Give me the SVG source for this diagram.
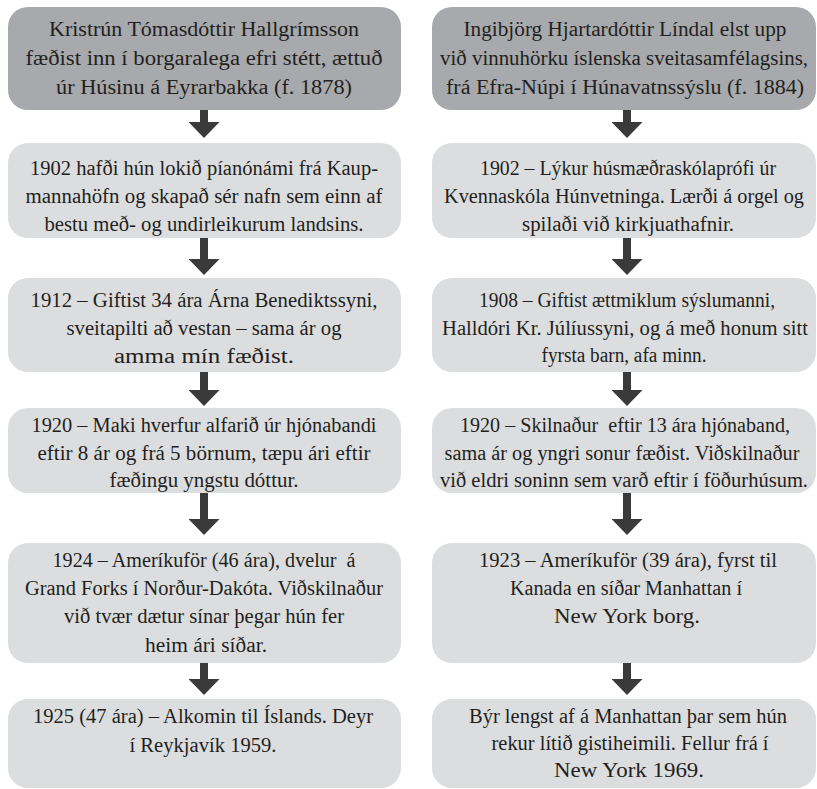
<svg xmlns="http://www.w3.org/2000/svg" width="817" height="789" viewBox="0 0 817 789">
<defs>
<style>
.dark{fill:#a7a9ac}
.light{fill:#dcdddf}
text{font-family:"Liberation Serif","Times New Roman",serif;font-size:20px;fill:#231f20;text-anchor:middle}
.conn line{stroke:#3a3a3a;stroke-width:8;marker-end:url(#ah)}
</style>
<marker id="ah" viewBox="0 0 16 31" refX="1" refY="15.5" markerWidth="16" markerHeight="31" markerUnits="userSpaceOnUse" orient="auto">
<path d="M0,0 L16,15.5 L0,31 Z" fill="#3a3a3a"/>
</marker>
</defs>
<rect width="817" height="789" fill="#ffffff"/>

<g id="L1"><rect class="dark" x="8" y="7" width="393" height="103" rx="20"/>
<text x="204" y="36" textLength="310" lengthAdjust="spacingAndGlyphs">Kristrún Tómasdóttir Hallgrímsson</text>
<text x="204" y="65" textLength="357" lengthAdjust="spacingAndGlyphs">fæðist inn í borgaralega efri stétt, ættuð</text>
<text x="204" y="94" textLength="296" lengthAdjust="spacingAndGlyphs">úr Húsinu á Eyrarbakka (f. 1878)</text></g>

<g id="L2"><rect class="light" x="8" y="143" width="393" height="95" rx="20"/>
<text x="204" y="175" textLength="348" lengthAdjust="spacingAndGlyphs">1902 hafði hún lokið píanónámi frá Kaup-</text>
<text x="204" y="203" textLength="357" lengthAdjust="spacingAndGlyphs">mannahöfn og skapað sér nafn sem einn af</text>
<text x="204" y="231" textLength="319" lengthAdjust="spacingAndGlyphs">bestu með- og undirleikurum landsins.</text></g>

<g id="L3"><rect class="light" x="8" y="278" width="393" height="94" rx="20"/>
<text x="204" y="307" textLength="347" lengthAdjust="spacingAndGlyphs">1912 – Giftist 34 ára Árna Benediktssyni,</text>
<text x="204" y="335" textLength="275" lengthAdjust="spacingAndGlyphs">sveitapilti að vestan – sama ár og</text>
<text x="204" y="363" textLength="180" lengthAdjust="spacingAndGlyphs">amma mín fæðist.</text></g>

<g id="L4"><rect class="light" x="8" y="408" width="393" height="85" rx="20"/>
<text x="204" y="432" textLength="345" lengthAdjust="spacingAndGlyphs">1920 – Maki hverfur alfarið úr hjónabandi</text>
<text x="204" y="460" textLength="333" lengthAdjust="spacingAndGlyphs">eftir 8 ár og frá 5 börnum, tæpu ári eftir</text>
<text x="204" y="487" textLength="189" lengthAdjust="spacingAndGlyphs">fæðingu yngstu dóttur.</text></g>

<g id="L5"><rect class="light" x="8" y="543" width="393" height="120" rx="20"/>
<text x="204" y="567" textLength="303" lengthAdjust="spacingAndGlyphs" xml:space="preserve">1924 – Ameríkuför (46 ára), dvelur  á</text>
<text x="204" y="595" textLength="358" lengthAdjust="spacingAndGlyphs">Grand Forks í Norður-Dakóta. Viðskilnaður</text>
<text x="204" y="623" textLength="280" lengthAdjust="spacingAndGlyphs">við tvær dætur sínar þegar hún fer</text>
<text x="206" y="652" textLength="122" lengthAdjust="spacingAndGlyphs">heim ári síðar.</text></g>

<g id="L6"><rect class="light" x="8" y="699" width="393" height="89" rx="20"/>
<text x="203" y="723" textLength="340" lengthAdjust="spacingAndGlyphs">1925 (47 ára) – Alkomin til Íslands. Deyr</text>
<text x="203" y="752" textLength="147" lengthAdjust="spacingAndGlyphs">í Reykjavík 1959.</text></g>

<g id="R1"><rect class="dark" x="432" y="7" width="384" height="103" rx="20"/>
<text x="625" y="36" textLength="323" lengthAdjust="spacingAndGlyphs">Ingibjörg Hjartardóttir Líndal elst upp</text>
<text x="624" y="65" textLength="368" lengthAdjust="spacingAndGlyphs">við vinnuhörku íslenska sveitasamfélagsins,</text>
<text x="625" y="94" textLength="358" lengthAdjust="spacingAndGlyphs">frá Efra-Núpi í Húnavatnssýslu (f. 1884)</text></g>

<g id="R2"><rect class="light" x="432" y="143" width="384" height="95" rx="20"/>
<text x="628" y="175" textLength="296" lengthAdjust="spacingAndGlyphs">1902 – Lýkur húsmæðraskólaprófi úr</text>
<text x="624" y="203" textLength="360" lengthAdjust="spacingAndGlyphs">Kvennaskóla Húnvetninga. Lærði á orgel og</text>
<text x="628" y="231" textLength="212" lengthAdjust="spacingAndGlyphs">spilaði við kirkjuathafnir.</text></g>

<g id="R3"><rect class="light" x="432" y="278" width="384" height="94" rx="20"/>
<text x="627" y="307" textLength="296" lengthAdjust="spacingAndGlyphs">1908 – Giftist ættmiklum sýslumanni,</text>
<text x="625" y="335" textLength="366" lengthAdjust="spacingAndGlyphs">Halldóri Kr. Júlíussyni, og á með honum sitt</text>
<text x="624" y="362" textLength="165" lengthAdjust="spacingAndGlyphs">fyrsta barn, afa minn.</text></g>

<g id="R4"><rect class="light" x="432" y="408" width="384" height="85" rx="20"/>
<text x="625" y="432" textLength="330" lengthAdjust="spacingAndGlyphs" xml:space="preserve">1920 – Skilnaður  eftir 13 ára hjónaband,</text>
<text x="622" y="460" textLength="355" lengthAdjust="spacingAndGlyphs">sama ár og yngri sonur fæðist. Viðskilnaður</text>
<text x="624" y="487" textLength="368" lengthAdjust="spacingAndGlyphs">við eldri soninn sem varð eftir í föðurhúsum.</text></g>

<g id="R5"><rect class="light" x="432" y="543" width="384" height="120" rx="20"/>
<text x="628" y="567" textLength="298" lengthAdjust="spacingAndGlyphs">1923 – Ameríkuför (39 ára), fyrst til</text>
<text x="626" y="595" textLength="232" lengthAdjust="spacingAndGlyphs">Kanada en síðar Manhattan í</text>
<text x="627" y="623" textLength="146" lengthAdjust="spacingAndGlyphs">New York borg.</text></g>

<g id="R6"><rect class="light" x="432" y="699" width="384" height="89" rx="20"/>
<text x="628" y="723" textLength="318" lengthAdjust="spacingAndGlyphs">Býr lengst af á Manhattan þar sem hún</text>
<text x="630" y="750" textLength="277" lengthAdjust="spacingAndGlyphs">rekur lítið gistiheimili. Fellur frá í</text>
<text x="629" y="777" textLength="150" lengthAdjust="spacingAndGlyphs">New York 1969.</text></g>

<g id="connectors" class="conn">
<line x1="204" y1="110" x2="204" y2="123"/>
<line x1="204" y1="238" x2="204" y2="260"/>
<line x1="204" y1="372" x2="204" y2="391"/>
<line x1="204" y1="493" x2="204" y2="520"/>
<line x1="204" y1="663" x2="204" y2="680"/>
<line x1="627" y1="110" x2="627" y2="123"/>
<line x1="627" y1="238" x2="627" y2="260"/>
<line x1="627" y1="372" x2="627" y2="391"/>
<line x1="627" y1="493" x2="627" y2="520"/>
<line x1="627" y1="663" x2="627" y2="680"/>
</g>
</svg>
